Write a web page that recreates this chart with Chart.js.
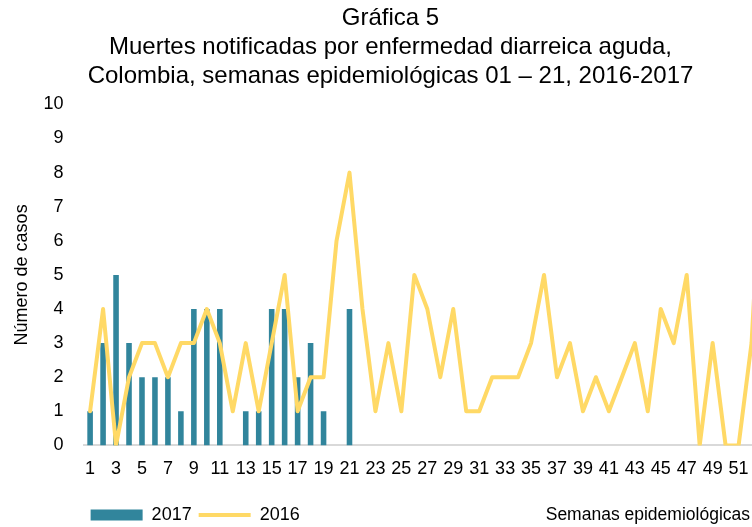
<!DOCTYPE html>
<html>
<head>
<meta charset="utf-8">
<script src="https://cdn.jsdelivr.net/npm/chart.js@4.4.1/dist/chart.umd.min.js"></script>
<style>
  html, body { margin: 0; padding: 0; overflow: hidden; background: #fff; }
  #wrap { width: 790px; height: 527px; }
</style>
</head>
<body>
<div id="wrap"><canvas id="grafica" width="790" height="527"></canvas></div>
<script>
// semanas epidemiologicas
const semanas = [1, 2, 3, 4, 5, 6, 7, 8, 9, 10, 11, 12, 13, 14, 15, 16, 17, 18, 19, 20,
  21, 22, 23, 24, 25, 26, 27, 28, 29, 30, 31, 32, 33, 34, 35, 36, 37, 38, 39, 40,
  41, 42, 43, 44, 45, 46, 47, 48, 49, 50, 51, 52, 53]
const casos2017 = [1, 3, 5, 3, 2, 2, 2, 1, 4, 4, 4, 0, 1, 1, 4, 4, 2, 3, 1, 0, 4]
const casos2016 = [1, 4, 0, 2, 3, 3, 2, 3, 3, 4, 3, 1, 3, 1, 3, 5, 1, 2, 2, 6,
  8, 4, 1, 3, 1, 5, 4, 2, 4, 1, 1, 2, 2, 2, 3, 5, 2, 3, 1, 2,
  1, 2, 3, 1, 4, 3, 5, 0, 3, 0, 0, 3, 10]
const titulo = ['Gráfica 5', 'Muertes notificadas por enfermedad diarreica aguda,',
  'Colombia, semanas epidemiológicas 01 – 21, 2016-2017']

const sans = "'Liberation Sans', Arial, sans-serif"

// x axis title sits on the legend row, right side
const xTitle = {
  id: 'xTitle',
  afterDraw(chart) {
    const box = chart.legend.legendHitBoxes[0]
    if (!box) return
    const ctx = chart.ctx
    ctx.save()
    ctx.font = '17.5px ' + sans
    ctx.fillStyle = '#000'
    ctx.textAlign = 'right'
    ctx.textBaseline = 'middle'
    ctx.fillText('Semanas epidemiológicas', chart.chartArea.right - 21, box.top + box.height / 2)
    ctx.restore()
  }
}

new Chart(document.getElementById('grafica'), {
  type: 'bar',
  data: {
    labels: semanas,
    datasets: [{
      type: 'line',
      label: '2016',
      data: casos2016,
      borderColor: '#FFD966',
      backgroundColor: '#FFD966',
      borderWidth: 4,
      borderCapStyle: 'round',
      borderJoinStyle: 'round',
      tension: 0,
      pointRadius: 0,
      pointStyle: 'line'
    }, {
      type: 'bar',
      label: '2017',
      data: casos2017,
      backgroundColor: '#31859C',
      categoryPercentage: 0.86,
      barPercentage: 0.5,
      pointStyle: 'rect'
    }]
  },
  options: {
    responsive: false,
    animation: false,
    layout: { padding: { left: 10, right: 19, top: 0, bottom: -7 } },
    scales: {
      x: {
        grid: { display: false, drawTicks: false },
        border: { color: '#d9d9d9', width: 2 },
        ticks: {
          autoSkip: false,
          maxRotation: 0,
          padding: 13,
          color: '#000',
          font: { family: sans, size: 18 },
          callback: function (value, index) {
            return semanas[index] % 2 === 1 ? semanas[index] : ''
          }
        },
        afterFit: function (scale) { scale.height += 6 }
      },
      y: {
        min: 0,
        max: 10,
        grid: { display: false, drawTicks: false },
        border: { display: false },
        ticks: {
          stepSize: 1,
          padding: 20,
          color: '#000',
          font: { family: sans, size: 18 }
        },
        title: {
          display: true,
          text: 'Número de casos',
          color: '#000',
          font: { family: sans, size: 18 },
          padding: { top: 1, bottom: -9 }
        }
      }
    },
    plugins: {
      title: {
        display: true,
        text: titulo,
        color: '#000',
        font: { family: sans, size: 24, weight: 'normal', lineHeight: 1.2 },
        padding: { top: 4, bottom: 14 }
      },
      legend: {
        position: 'bottom',
        align: 'start',
        fullSize: false,
        reverse: true,
        labels: {
          usePointStyle: true,
          pointStyleWidth: 52,
          boxWidth: 52,
          boxHeight: 11,
          padding: 7,
          color: '#000',
          font: { family: sans, size: 18 }
        }
      },
      tooltip: { enabled: false }
    }
  },
  plugins: [xTitle]
})
</script>
</body>
</html>
